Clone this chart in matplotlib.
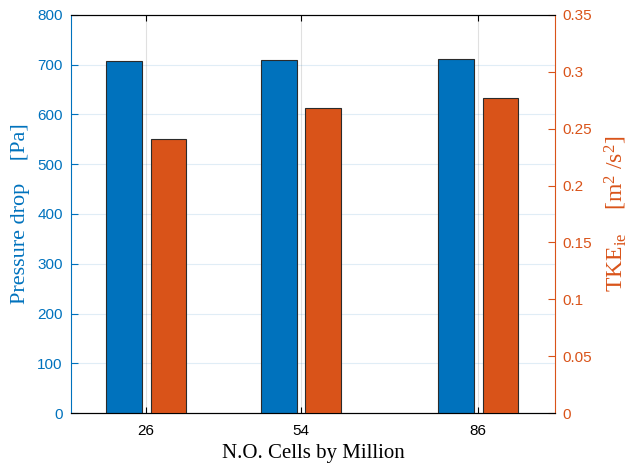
import numpy as np
import matplotlib.pyplot as plt

plt.rcParams['mathtext.fontset'] = 'custom'
plt.rcParams['mathtext.rm'] = 'Liberation Serif'
plt.rcParams['mathtext.it'] = 'Liberation Serif:italic'

### data
cells = [26, 54, 86]                      # million cells
pressure = [706.5, 710.5, 711]            # Pa
tke = [0.2412, 0.268, 0.2768]             # m^2/s^2

blue = '#0072BD'
orange = '#D95319'
edge = '#2b2b2b'

x = np.array(cells, dtype=float)
w = 6.4
off = 4.0

fig = plt.figure(figsize=(6.35, 4.68), dpi=100)
ax = fig.add_axes([0.112, 0.1175, 0.762, 0.8505])
ax2 = ax.twinx()

ax.bar(x - off, pressure, w, color=blue, edgecolor=edge, linewidth=0.8, zorder=3)
ax2.bar(x + off, tke, w, color=orange, edgecolor=edge, linewidth=0.8, zorder=3)

ax.set_xlim(12.45, 99.9)
ax.set_ylim(0, 800)
ax2.set_ylim(0, 0.35)
ax.set_xticks(cells)
ax.set_yticks(np.arange(0, 801, 100))
ax2.set_yticks(np.arange(0, 0.351, 0.05))
ax2.set_yticklabels(['0', '0.05', '0.1', '0.15', '0.2', '0.25', '0.3', '0.35'])

# grid
ax.set_axisbelow(True)
ax.yaxis.grid(True, color=blue, alpha=0.12, linewidth=0.8)
ax.xaxis.grid(True, color='k', alpha=0.12, linewidth=0.8)

tick_font = 'Liberation Sans'
for lab in ax.get_xticklabels():
    lab.set_fontfamily(tick_font)
for lab in ax.get_yticklabels() + ax2.get_yticklabels():
    lab.set_fontfamily(tick_font)

ax.tick_params(axis='x', direction='in', length=4, labelsize=11, colors='k',
               top=True, pad=8)
ax.tick_params(axis='y', direction='in', length=5, labelsize=11, colors=blue, pad=6)
ax2.tick_params(axis='y', direction='in', length=5, labelsize=11, colors=orange, pad=5)

ax.spines['left'].set_color(blue)
ax2.spines['left'].set_visible(False)
ax2.spines['right'].set_color(orange)
ax.spines['right'].set_visible(False)
for s in ['top', 'bottom']:
    ax.spines[s].set_color('k')
    ax2.spines[s].set_color('k')

ax.set_xlabel('N.O. Cells by Million', fontfamily='Liberation Serif',
              fontsize=15, labelpad=4)
ax.set_ylabel('Pressure drop    [Pa]', fontfamily='Liberation Serif',
              fontsize=16, color=blue, labelpad=5)
ax2.set_ylabel(r'TKE$_{\mathrm{ie}}$    [m$^{2}$ /s$^{2}$]',
               fontfamily='Liberation Serif', fontsize=17, color=orange,
               rotation=90, labelpad=8)

fig.savefig('out.png', dpi=100)
